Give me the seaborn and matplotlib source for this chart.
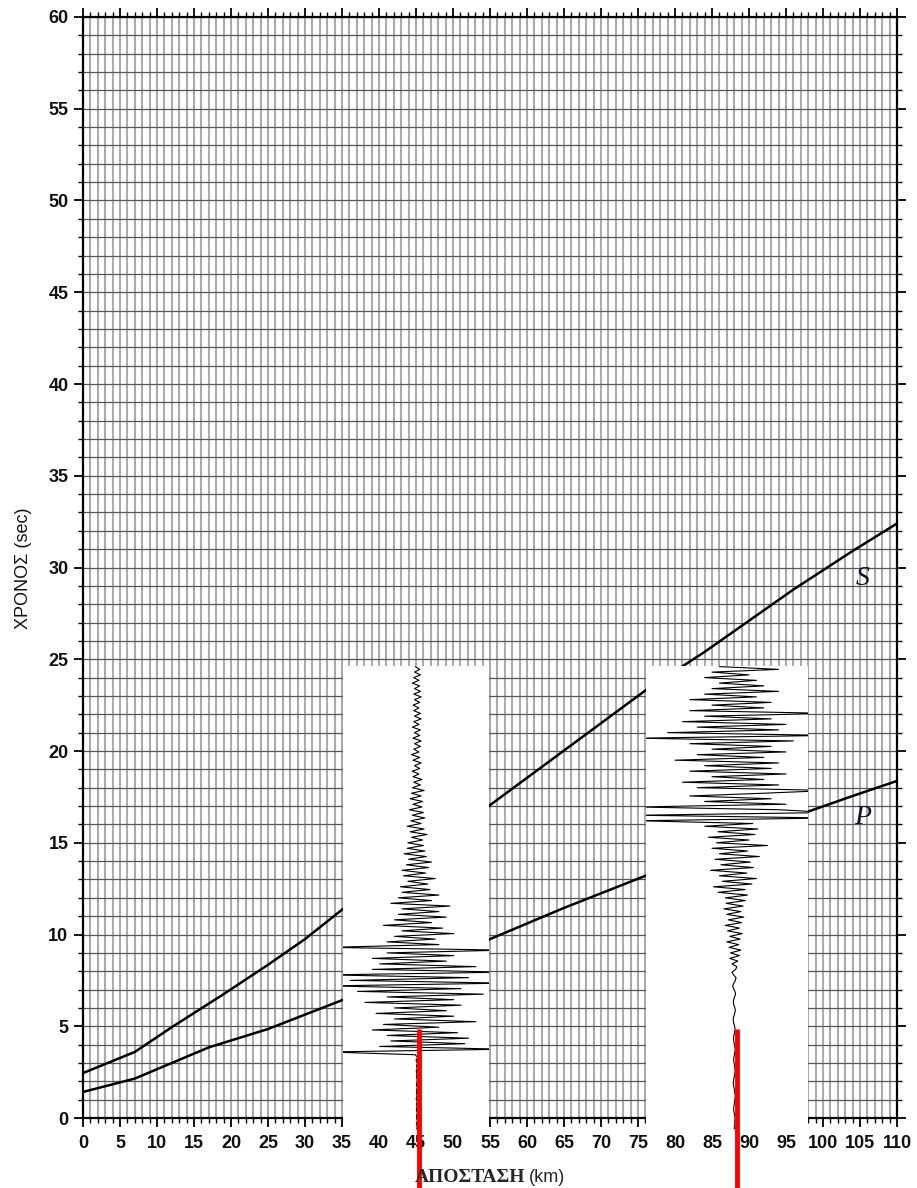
import numpy as np
import matplotlib.pyplot as plt
import seaborn as sns
from matplotlib.patches import Rectangle
from matplotlib.ticker import MultipleLocator

# καμπύλες χρόνου διαδρομής (km, sec)
s_dist = [0, 7, 12, 19, 25, 30, 35, 55, 76, 84, 96, 104, 110]
s_time = [2.45, 3.6, 4.95, 6.75, 8.35, 9.75, 11.35, 17.05, 23.3, 25.4, 28.8, 30.9, 32.4]
p_dist = [0, 7, 17, 25, 35, 55, 65, 76, 98, 104, 110]
p_time = [1.42, 2.15, 3.85, 4.85, 6.42, 9.75, 11.45, 13.2, 16.7, 17.55, 18.37]

# σεισμογράμματα: απόκλιση (km) ανά 0.15 sec, από -0.6 sec
trace_step = 0.15
trace_t0 = -0.6
trace1_center = 45.1
trace1_defl = [
    0.0, 0.05, -0.05, 0.08, -0.03, 0.0, 0.06, -0.06, 0.04, -0.02,
    0.05, -0.08, 0.03, 0.0, -0.05, 0.07, -0.04, 0.02, 0.06, -0.05,
    0.03, -0.07, 0.05, -0.02, 0.08, -0.1, 0.12, -0.2,
    -12, 12, -5, 6.5, -3.5, 7, -4, 5.5, -6, 3, -4.5, 8, -3, 5, -5.5, 4,
    -3, 6, -7, 5, -4, 9, -8, 6, -12, 12, -9, 7, -12, 12, -6, 8, -5, 4,
    -6, 5, -4, 12, -12,
    3, -4, 2.5, -3, 5, -2, 3.5, -4.5, 2, -3, 4, -2.5, 3, -2, 4.5, -3.5,
    2, -2.5, 3, -2,
    1.8, -2.2, 1.5, -1.2, 2.5, -1.8, 1.2, -2, 1.6, -1.4, 2, -1.1, 1.3,
    -1.7, 1.1, -1.3,
    0.9, -1.2, 0.8, -0.7, 1.4, -0.9, 1.0, -1.3, 0.6, -0.8, 1.1, -0.6,
    0.9, -1.0, 0.7, -0.5, 0.8, -0.9, 0.6, -0.7, 1.0,
    -0.6, 0.5, -0.4, 0.7, -0.5, 0.3, -0.6, 0.4, -0.3, 0.6,
    -0.5, 0.4, -0.7, 0.3, -0.4, 0.5, -0.3, 0.6, -0.5, 0.4,
    -0.3, 0.5, -0.6, 0.3, -0.4, 0.6, -0.3, 0.5, -0.4, 0.3,
    -0.5, 0.4, -0.3, 0.6, -0.4, 0.5, -0.3, 0.4, -0.6, 0.3,
    -0.4, 0.5, -0.3, 0.4, -0.2,
]
trace2_center = 88.0
trace2_defl = [
    0.0, 0.05, 0.1, 0.08, 0.12, 0.05, -0.02, -0.08, -0.05, 0.0,
    0.06, 0.1, 0.15, 0.1, 0.04, -0.03, -0.1, -0.12, -0.06, 0.0,
    0.08, 0.12, 0.1, 0.05, -0.02, -0.08, -0.05, 0.02, 0.1, 0.14,
    0.08, 0.0, -0.06, -0.1, -0.04, 0.05, 0.12, 0.08, -0.02, -0.1,
    -0.14, -0.05, 0.06, 0.15, 0.1, -0.04, -0.12, -0.08, 0.05, 0.18,
    0.1, -0.1, -0.2, -0.05, 0.15, 0.25, -0.1, -0.3, 0.2, 0.35, -0.3,
    0.5, -0.6, 0.7, -0.5, 0.9, -0.7, 0.6, -1.0, 0.8, -0.6, 1.1, -0.9,
    0.7, -1.2, 1.0, -0.8, 1.3, -1.0, 0.9, -1.4, 1.2, -1.1, 1.5, -1.2,
    1.8, -2.2, 1.5, -2.8, 2.4, -1.6, 3.0, -2.0, 1.7, -3.2, 2.6, -1.8,
    2.2, -2.6, 3.4, -2.0, 1.8, -3.0, 4.5, -2.4, 2.0, -3.5, 2.8, -2.2,
    3.2, -4.0, 2.5,
    -13, 13, -13, 13, 6, -13, 7, -4, 5, -6, 4, 13, -5, 6, -7, 4, -3, 7,
    -6, 5, -4, 6, -8, 4, -5, 7, -3, 5, -6, 8, -13, 13, -9, 6, -5, 7,
    -7, 5, -4, 13, -6, 4, -3, 5, -6, 3, -4, 6, -3, 4, -2, 3, -4, 2,
    -3, 6, -2,
]

# λευκά πλαίσια σεισμογραμμάτων (km, sec)
box1 = (35.1, 54.9)
box2 = (76.1, 98.0)
box_t = (-0.65, 24.63)
red_marks = [45.4, 88.4]
red_top = 4.85


def main():
    sns.set_theme(style="ticks")
    plt.rcParams["font.family"] = ["Liberation Sans", "DejaVu Sans"]

    fig = plt.figure(figsize=(9.17, 11.88), dpi=100)
    ax = fig.add_axes([0.0905, 0.0589, 0.8877, 0.9268])

    # καμπύλες S και P
    sns.lineplot(x=s_dist, y=s_time, color="black", lw=1.8, ax=ax, zorder=3)
    sns.lineplot(x=p_dist, y=p_time, color="black", lw=1.8, ax=ax, zorder=3)

    ax.set_xlim(0, 110)
    ax.set_ylim(0, 60)
    ax.xaxis.set_major_locator(MultipleLocator(5))
    ax.xaxis.set_minor_locator(MultipleLocator(1))
    ax.yaxis.set_major_locator(MultipleLocator(5))
    ax.yaxis.set_minor_locator(MultipleLocator(1))

    ax.set_axisbelow(True)
    ax.xaxis.grid(True, which="both", color="#ababab", lw=1.5)
    ax.yaxis.grid(True, which="both", color="#575757", lw=0.9)

    for sp in ax.spines.values():
        sp.set_visible(True)
        sp.set_linewidth(1.6)
        sp.set_color("black")

    ax.tick_params(which="both", direction="out", top=True, right=True,
                   labeltop=False, labelright=False, color="black")
    ax.tick_params(which="major", length=6.5, width=1.3, labelsize=13,
                   labelcolor="#111111")
    ax.tick_params(axis="x", which="major", pad=6)
    ax.tick_params(axis="y", which="major", pad=4)
    ax.tick_params(which="minor", length=3.5, width=1.0)
    for lbl in ax.get_xticklabels() + ax.get_yticklabels():
        lbl.set_fontweight("bold")

    ax.set_xlabel("")
    ax.set_ylabel("")
    fig.text(24 / 917, 1 - 568 / 1188, "ΧΡΟΝΟΣ (sec)", rotation=90,
             ha="center", va="center", fontsize=13, color="#111111")
    fig.text(525 / 917, 1 - 1182 / 1188, "ΑΠΟΣΤΑΣΗ", ha="right",
             va="baseline", fontsize=14, fontweight="bold",
             family=["Liberation Serif", "DejaVu Serif"])
    fig.text(529 / 917, 1 - 1182 / 1188, "(km)", ha="left",
             va="baseline", fontsize=13)

    ax.text(105.3, 29.4, "S", ha="center", va="center", fontsize=20,
            style="italic", color="#101028",
            family=["Liberation Serif", "DejaVu Serif"])
    ax.text(105.3, 16.4, "P", ha="center", va="center", fontsize=20,
            style="italic", color="#101028",
            family=["Liberation Serif", "DejaVu Serif"])

    # σεισμογράμματα σε λευκά πλαίσια
    for box, center, defl in [(box1, trace1_center, trace1_defl),
                              (box2, trace2_center, trace2_defl)]:
        rect = Rectangle((box[0], box_t[0]), box[1] - box[0],
                         box_t[1] - box_t[0], facecolor="white",
                         edgecolor="none", zorder=5, clip_on=False)
        ax.add_patch(rect)
        t = trace_t0 + trace_step * np.arange(len(defl))
        xs = center + np.array(defl)
        sns.lineplot(x=xs, y=t, orient="y", sort=False, estimator=None,
                     color="black", lw=0.8, ax=ax, zorder=6)
        ax.lines[-1].set_clip_path(rect)

    ax.vlines(red_marks, -4.0, red_top, colors="#ff0000", lw=3.5,
              zorder=20, clip_on=False)

    fig.savefig("out.png", dpi=100)
    plt.close(fig)


if __name__ == "__main__":
    main()
